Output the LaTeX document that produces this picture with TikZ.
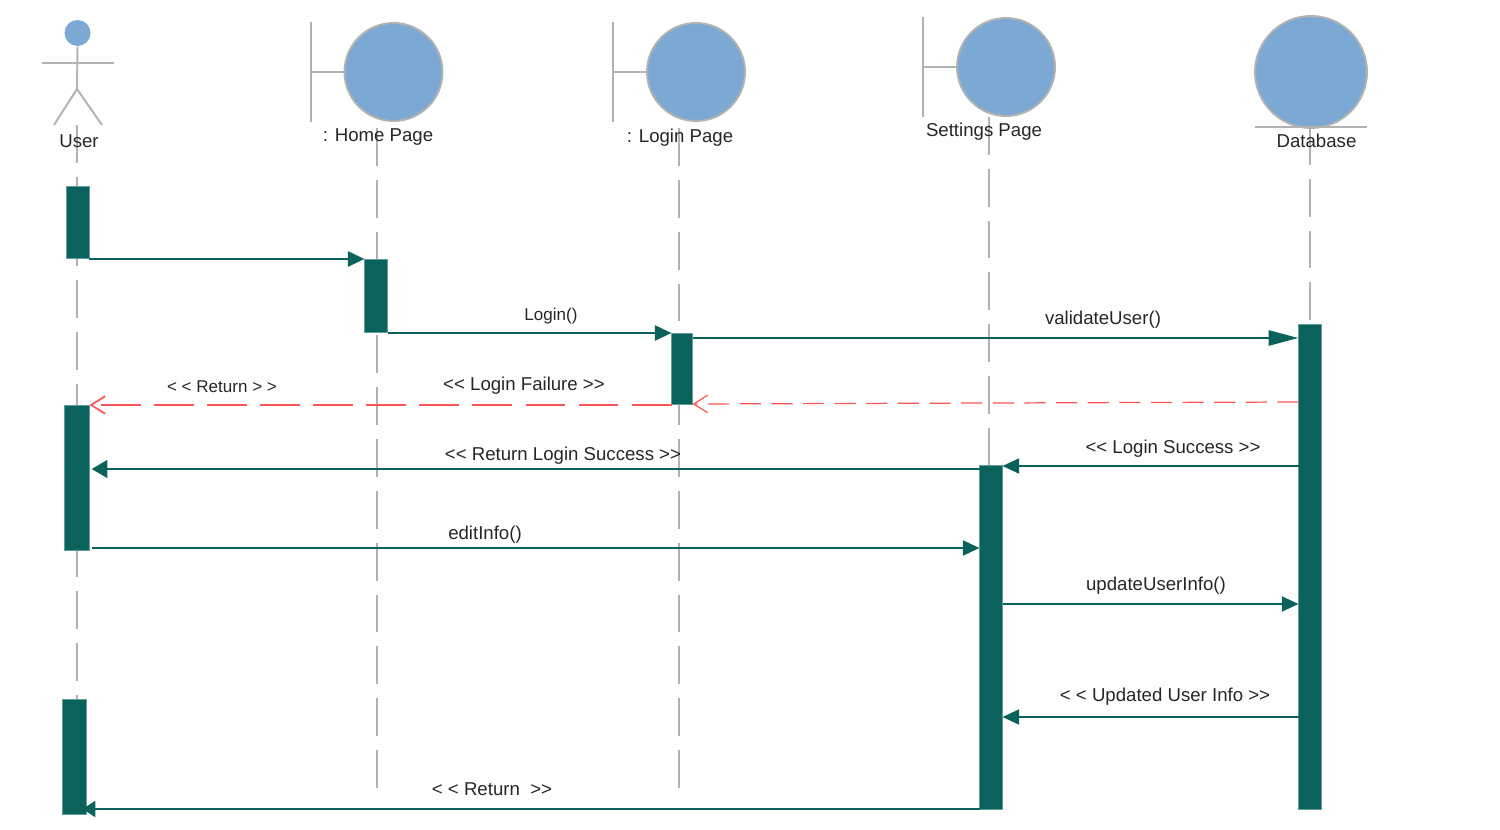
\documentclass[tikz,border=0pt]{standalone}
\usepackage{fontspec}
\setmainfont{Liberation Sans}[Ligatures=TeXOff]
\usetikzlibrary{arrows.meta,positioning}
\definecolor{headblue}{HTML}{7BA9D4}
\definecolor{linegray}{HTML}{B2B2B2}
\definecolor{barteal}{HTML}{0B615B}
\definecolor{baredge}{HTML}{5F9E99}
\definecolor{retred}{HTML}{FF5555}

\begin{document}
\begin{tikzpicture}[x=0.02cm,y=-0.02cm,
  head node/.style={circle,fill=headblue,draw=linegray,line width=1.1pt,inner sep=0pt},
  bar node/.style={fill=barteal,draw=baredge,line width=0.4pt,inner sep=0pt,outer sep=0pt,anchor=north west},
  label node/.style={font=\fontsize{10.6}{12}\selectfont,inner sep=0pt,text=black!85},
  tight label/.style={label node,font=\fontsize{9.7}{12}\selectfont},
  figure line/.style={draw=linegray,line width=1.1pt},
  life line/.style={draw=linegray,line width=1.1pt,dash pattern=on 21.5pt off 8pt},
  call/.style={draw=barteal,line width=1.7pt,-{Triangle[length=9.5pt,width=8.5pt]}},
  return/.style={draw=retred,line width=1pt,dash pattern=on 22.7pt off 7.5pt,-{Straight Barb[length=8pt,width=10pt]}}]

  \useasboundingbox (0,0) rectangle (1500,830);

  % lifelines first, the bars lie on them
  \coordinate (userTop) at (77,125);
  \coordinate (userEnd) at (77,700);
  \coordinate (homeTop) at (377,122);
  \coordinate (homeEnd) at (377,790);
  \coordinate (loginTop) at (679,122);
  \coordinate (loginEnd) at (679,790);
  \coordinate (settingsTop) at (989,117);
  \coordinate (settingsEnd) at (989,465);
  \coordinate (dbTop) at (1310,127);
  \coordinate (dbEnd) at (1310,324);
  \draw[life line] (userTop) -- (userEnd);
  \draw[life line,dash phase=26pt] (homeTop) -- (homeEnd);
  \draw[life line,dash phase=26pt] (loginTop) -- (loginEnd);
  \draw[life line] (settingsTop) -- (settingsEnd);
  \draw[life line] (dbTop) -- (dbEnd);

  % actor
  \node[circle,fill=headblue,minimum size=0.52cm,inner sep=0pt] (userHead) at (77.5,33) {};
  \coordinate (userHip) at (77,89);
  \coordinate (userArmL) at (42,63);
  \coordinate (userArmR) at (114,63);
  \coordinate (userFootL) at (54,125);
  \coordinate (userFootR) at (102,125);
  \draw[figure line] (userHead.south) -- (userHip);
  \draw[figure line] (userArmL) -- (userArmR);
  \draw[figure line] (userFootL) -- (userHip) -- (userFootR);

  % boundaries and database
  \node[head node,minimum size=1.96cm] (home) at (393.5,72) {};
  \node[head node,minimum size=1.96cm] (login) at (696,72) {};
  \node[head node,minimum size=1.96cm] (settings) at (1006,67) {};
  \node[head node,minimum size=2.24cm] (db) at (1311,72) {};
  \coordinate (homeBarT) at (311,22);
  \coordinate (homeBarB) at (311,122);
  \coordinate (loginBarT) at (613,22);
  \coordinate (loginBarB) at (613,122);
  \coordinate (settingsBarT) at (923,17);
  \coordinate (settingsBarB) at (923,117);
  \coordinate (dbLineL) at (1255,127);
  \coordinate (dbLineR) at (1367,127);
  \draw[figure line] (homeBarT) -- (homeBarB);
  \draw[figure line] (homeBarT |- home.west) -- (home.west);
  \draw[figure line] (loginBarT) -- (loginBarB);
  \draw[figure line] (loginBarT |- login.west) -- (login.west);
  \draw[figure line] (settingsBarT) -- (settingsBarB);
  \draw[figure line] (settingsBarT |- settings.west) -- (settings.west);
  \draw[figure line] (dbLineL) -- (dbLineR);

  \node[label node] (userLabel) at (79,141) {User};
  \node[label node] (homeLabel) at (378,137.5) {: Home Page};
  \node[label node] (loginLabel) at (680,137.5) {: Login Page};
  \node[label node] (settingsLabel) at (984,132) {Settings Page};
  \node[label node] (dbLabel) at (1316.5,141) {Database};

  % activation bars
  \node[bar node,minimum width=0.46cm,minimum height=1.44cm] (userBarA) at (66.5,186.5) {};
  \node[bar node,minimum width=0.46cm,minimum height=1.46cm] (homeBar) at (364.5,259.5) {};
  \node[bar node,minimum width=0.42cm,minimum height=1.42cm] (loginBar) at (671.5,333.5) {};
  \node[bar node,minimum width=0.50cm,minimum height=2.90cm] (userBarB) at (64.5,405.5) {};
  \node[bar node,minimum width=0.48cm,minimum height=2.30cm] (userBarC) at (62.5,699.5) {};
  \node[bar node,minimum width=0.46cm,minimum height=6.88cm] (settingsBar) at (979.5,465.5) {};
  \node[bar node,minimum width=0.46cm,minimum height=9.70cm] (dbBar) at (1298.5,324.5) {};

  % messages
  \draw[call] (userBarA.east |- 0,259) -- (homeBar.west |- 0,259);
  \draw[call] (homeBar.east |- 0,333) -- (loginBar.west |- 0,333);
  \draw[call,-{Triangle[length=17pt,width=8.5pt]}] (loginBar.east |- 0,338) -- (dbBar.west |- 0,338);
  \draw[return,line width=0.7pt,dash pattern=on 12pt off 6pt] (dbBar.west |- 0,402) -- (loginBar.east |- 0,404);
  \draw[return] (loginBar.west |- 0,405) -- (userBarB.east |- 0,405);
  \draw[call,line width=1.4pt] (dbBar.west |- 0,466) -- (settingsBar.east |- 0,466);
  \draw[call,shorten >=1.2pt,-{Triangle[length=9pt,width=10pt]}] (settingsBar.west |- 0,469) -- (userBarB.east |- 0,469);
  \draw[call,line width=1.4pt,shorten <=1.5pt] (userBarB.east |- 0,548) -- (settingsBar.west |- 0,548);
  \draw[call,line width=1.4pt] (settingsBar.east |- 0,604) -- (dbBar.west |- 0,604);
  \draw[call,line width=1.4pt] (dbBar.west |- 0,717) -- (settingsBar.east |- 0,717);
  \draw[call,shorten >=-2.3pt,-{Triangle[length=7.4pt,width=9pt]}] (settingsBar.west |- 0,809) -- (userBarC.east |- 0,809);

  \node[tight label] (loginCall) at (551,316) {Login()};
  \node[label node] (validateCall) at (1103,320) {validateUser()};
  \node[tight label] (returnA) at (222,387) {< < Return > >};
  \node[label node] (failureRet) at (524,386) {<< Login Failure >>};
  \node[label node] (successRet) at (563,456) {<< Return Login Success >>};
  \node[label node] (successDb) at (1173,449) {<< Login Success >>};
  \node[label node] (editCall) at (485,535) {editInfo()};
  \node[label node] (updateCall) at (1156,586) {updateUserInfo()};
  \node[label node] (updatedRet) at (1165,697) {< < Updated User Info >>};
  \node[label node] (returnB) at (492,789) {< < Return \ >>};
\end{tikzpicture}
\end{document}
